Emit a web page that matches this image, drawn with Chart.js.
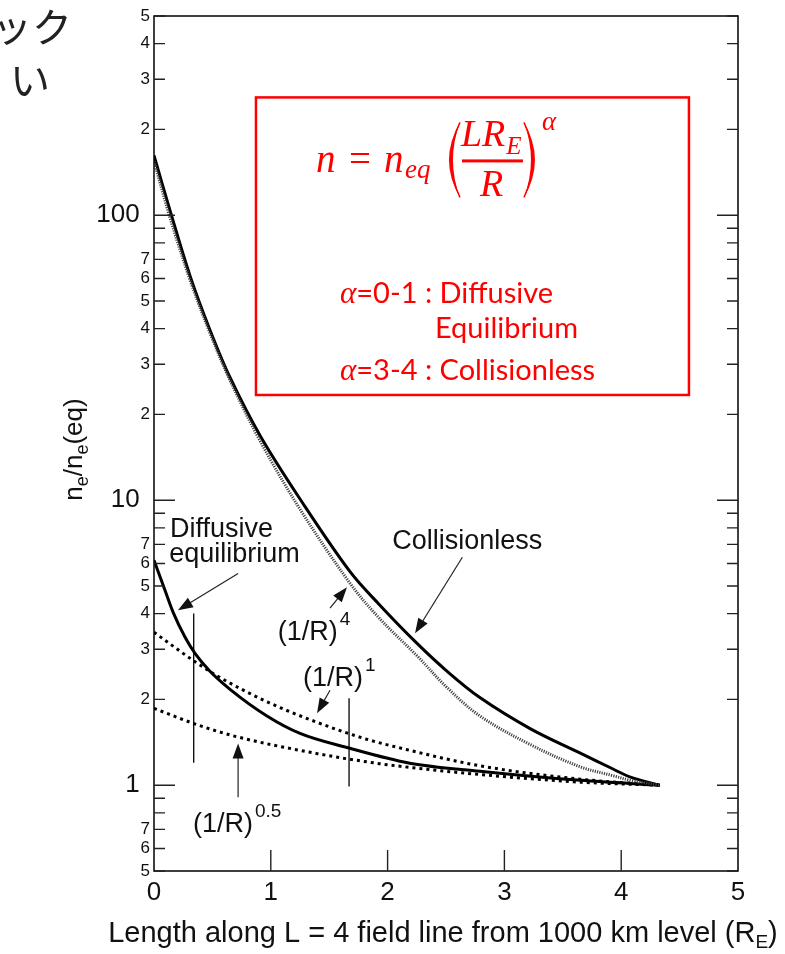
<!DOCTYPE html>
<html lang="ja">
<head>
<meta charset="UTF-8">
<title>n_e/n_e(eq) along L = 4</title>
<script src="https://cdn.jsdelivr.net/npm/chart.js"></script>
<style>
  html, body { margin: 0; padding: 0; background: #fff; }
  #wrap { position: relative; width: 785px; height: 954px; }
</style>
</head>
<body>
<div id="wrap"><canvas id="fig" width="785" height="954"></canvas></div>
<script>
// values: x = length along field line (R_E), y = n_e/n_e(eq)
const collX = [0, 0.14, 0.31, 0.48, 0.65, 0.91, 1.25, 1.68, 1.93, 2.25, 2.5, 2.79, 3.22, 3.65, 3.93, 4.08, 4.33];
const collY = [162, 103, 61, 39.5, 27, 16.8, 10.1, 5.6, 4.3, 3.15, 2.53, 2.03, 1.58, 1.295, 1.14, 1.067, 1.0];
const pow4Y = [155, 97, 59, 38.5, 26.4, 16.1, 9.3, 5.1, 3.85, 2.85, 2.22, 1.75, 1.39, 1.16, 1.08, 1.04, 1.0];

const diffX = [0, 0.094, 0.163, 0.265, 0.351, 0.479, 0.651, 0.967, 1.25, 1.67, 2.19, 2.79, 3.65, 4.33];
const diffY = [6.16, 4.83, 4.05, 3.31, 2.90, 2.51, 2.17, 1.75, 1.52, 1.35, 1.195, 1.12, 1.04, 1.0];

const pow1X = [0, 0.37, 0.54, 0.97, 1.40, 1.82, 2.11, 2.79, 3.65, 4.33];
const pow1Y = [3.44, 2.68, 2.42, 1.96, 1.66, 1.45, 1.35, 1.17, 1.05, 1.0];

const pow05X = [0, 0.37, 0.68, 1.40, 1.93, 2.11, 2.79, 3.65, 4.33];
const pow05Y = [1.86, 1.63, 1.49, 1.29, 1.19, 1.165, 1.09, 1.025, 1.0];

// the two thin vertical marker lines
const markX = [0.34, 1.67];
const markLo = [1.20, 0.99];
const markHi = [4.0, 2.02];

// axis ticks
const xAxisTicks = [0, 1, 2, 3, 4, 5];
const yAxisTicks = [0.5, 0.6, 0.7, 0.8, 0.9, 1, 2, 3, 4, 5, 6, 7, 8, 9, 10, 20, 30, 40, 50, 60, 70, 80, 90, 100, 200, 300, 400, 500];
const yAxisLabels = ['5', '6', '7', '', '', '1', '2', '3', '4', '5', '6', '7', '', '', '10', '2', '3', '4', '5', '6', '7', '', '', '100', '2', '3', '4', '5'];
const yMajor = [1, 10, 100];

// text labels and arrows, in data units
const notes = [
  { text: 'Diffusive', x: 0.137, y: 7.42 },
  { text: 'equilibrium', x: 0.13, y: 6.06 },
  { text: 'Collisionless', x: 2.04, y: 6.73 },
  { text: '(1/R)', sup: '4', x: 1.06, y: 3.23 },
  { text: '(1/R)', sup: '1', x: 1.276, y: 2.225 },
  { text: '(1/R)', sup: '0.5', x: 0.334, y: 0.684 }
];
const arrows = [
  { from: [0.72, 5.53], to: [0.205, 4.11] },
  { from: [2.64, 6.31], to: [2.235, 3.41] },
  { from: [1.507, 4.18], to: [1.652, 4.95] },
  { from: [1.507, 2.154], to: [1.396, 1.79] },
  { from: [0.72, 0.908], to: [0.72, 1.40] }
];
const redBox = { x0: 0.873, x1: 4.58, yTop: 259, yBot: 23.4 };

const FONT = '"Liberation Sans", Arial, sans-serif';
const RED = '#ff0000';

function pts(xs, ys) { return xs.map((x, i) => ({ x: x, y: ys[i] })); }

function curve(data, dash, color, width, smooth) {
  const ds = {
    data: data, showLine: true, pointRadius: 0, borderColor: color, borderWidth: width,
    borderDash: dash, fill: false
  };
  if (smooth) ds.tension = 0.35;
  else ds.cubicInterpolationMode = 'monotone';
  return ds;
}

const datasets = [
  curve(pts(collX, pow4Y), [1.2, 1.2], '#444', 3, true),
  curve(pts(collX, collY), [], '#000', 3, true),
  curve(pts(pow1X, pow1Y), [3, 4], '#000', 3),
  curve(pts(pow05X, pow05Y), [3, 4], '#000', 3),
  curve(pts(diffX, diffY), [], '#000', 3)
];
markX.forEach((x, i) => {
  datasets.push({ data: [{ x: x, y: markLo[i] }, { x: x, y: markHi[i] }], showLine: true,
    pointRadius: 0, borderColor: '#000', borderWidth: 1.3 });
});

function arrow(ctx, x1, y1, x2, y2) {
  const a = Math.atan2(y2 - y1, x2 - x1), L = 15, W = 5.5;
  const c = Math.cos(a), s = Math.sin(a);
  ctx.beginPath();
  ctx.moveTo(x1, y1);
  ctx.lineTo(x2 - L * 0.7 * c, y2 - L * 0.7 * s);
  ctx.stroke();
  ctx.beginPath();
  ctx.moveTo(x2, y2);
  ctx.lineTo(x2 - L * c + W * s, y2 - L * s - W * c);
  ctx.lineTo(x2 - L * c - W * s, y2 - L * s + W * c);
  ctx.closePath();
  ctx.fill();
}

function paren(ctx, x, top, bot, dir) {
  // dir = 1 for '(' , -1 for ')'
  const mid = (top + bot) / 2;
  ctx.beginPath();
  ctx.moveTo(x, top);
  ctx.quadraticCurveTo(x - dir * 22, mid, x, bot);
  ctx.quadraticCurveTo(x - dir * 14, mid, x, top);
  ctx.fill();
  ctx.beginPath();
  ctx.moveTo(x, top);
  ctx.quadraticCurveTo(x - dir * 18, mid, x, bot);
  ctx.stroke();
}

const decorations = {
  id: 'decorations',
  afterDraw(chart) {
    const ctx = chart.ctx, xs = chart.scales.x, ys = chart.scales.y, a = chart.chartArea;
    const px = v => xs.getPixelForValue(v), py = v => ys.getPixelForValue(v);
    ctx.save();

    // frame
    ctx.strokeStyle = '#000';
    ctx.lineWidth = 1.5;
    ctx.strokeRect(a.left, a.top, a.right - a.left, a.bottom - a.top);

    // inward tick marks
    ctx.strokeStyle = '#222';
    ctx.lineWidth = 1.4;
    ctx.beginPath();
    yAxisTicks.forEach(v => {
      const y = py(v), len = yMajor.includes(v) ? 21 : 11;
      ctx.moveTo(a.left, y); ctx.lineTo(a.left + len, y);
      ctx.moveTo(a.right, y); ctx.lineTo(a.right - len, y);
    });
    xAxisTicks.slice(1, -1).forEach(v => {
      const x = px(v);
      ctx.moveTo(x, a.bottom); ctx.lineTo(x, a.bottom - 21);
    });
    ctx.stroke();

    // annotations
    ctx.fillStyle = '#111';
    ctx.textBaseline = 'alphabetic';
    ctx.textAlign = 'left';
    notes.forEach(n => {
      ctx.font = '27px ' + FONT;
      const x = px(n.x), y = py(n.y);
      ctx.fillText(n.text, x, y);
      if (n.sup) {
        const w = ctx.measureText(n.text).width;
        ctx.font = '19px ' + FONT;
        ctx.fillText(n.sup, x + w + 2, y - 15);
      }
    });
    ctx.strokeStyle = '#222';
    ctx.fillStyle = '#111';
    ctx.lineWidth = 1.2;
    arrows.forEach(r => arrow(ctx, px(r.from[0]), py(r.from[1]), px(r.to[0]), py(r.to[1])));

    // axis titles
    ctx.fillStyle = '#111';
    const t1 = 'Length along L = 4 field line from 1000 km level (R';
    ctx.font = '29px ' + FONT;
    const w1 = ctx.measureText(t1).width;
    const wP = ctx.measureText(')').width;
    ctx.font = '19px ' + FONT;
    const wE = ctx.measureText('E').width;
    const tx = 443 - (w1 + wE + wP) / 2;
    const tyb = 942;
    ctx.font = '29px ' + FONT;
    ctx.fillText(t1, tx, tyb);
    ctx.fillText(')', tx + w1 + wE, tyb);
    ctx.font = '19px ' + FONT;
    ctx.fillText('E', tx + w1, tyb + 6);

    ctx.save();
    ctx.translate(82, (a.top + a.bottom) / 2 + 6);
    ctx.rotate(-Math.PI / 2);
    const parts = [['n', 0], ['e', 1], ['/n', 0], ['e', 1], ['(eq)', 0]];
    let total = 0;
    parts.forEach(p => { ctx.font = (p[1] ? '18px ' : '26px ') + FONT; total += ctx.measureText(p[0]).width; });
    let cx = -total / 2;
    parts.forEach(p => {
      ctx.font = (p[1] ? '18px ' : '26px ') + FONT;
      ctx.fillText(p[0], cx, p[1] ? 6 : 0);
      cx += ctx.measureText(p[0]).width;
    });
    ctx.restore();

    // red formula box
    const bl = px(redBox.x0), br = px(redBox.x1), bt = py(redBox.yTop), bb = py(redBox.yBot);
    ctx.strokeStyle = RED;
    ctx.fillStyle = RED;
    ctx.lineWidth = 2.5;
    ctx.strokeRect(bl, bt, br - bl, bb - bt);

    const ital = s => 'italic ' + s + 'px "Liberation Serif", "DejaVu Serif", serif';
    ctx.font = ital(39);
    ctx.fillText('n', bl + 60, bt + 75);
    ctx.font = '39px "Liberation Serif", serif';
    ctx.fillText('=', bl + 93, bt + 75);
    ctx.font = ital(39);
    ctx.fillText('n', bl + 128, bt + 75);
    ctx.font = ital(27);
    ctx.fillText('eq', bl + 149, bt + 81);
    ctx.lineWidth = 1.5;
    paren(ctx, bl + 204, bt + 25, bt + 100, 1);
    paren(ctx, bl + 268, bt + 25, bt + 100, -1);
    ctx.font = ital(38);
    ctx.fillText('LR', bl + 205, bt + 49);
    const wLR = ctx.measureText('LR').width;
    ctx.font = ital(25);
    ctx.fillText('E', bl + 205 + wLR + 1, bt + 57);
    ctx.fillRect(bl + 206, bt + 62, 61, 3);
    ctx.font = ital(38);
    ctx.fillText('R', bl + 224, bt + 99);
    ctx.font = ital(27);
    ctx.fillText('α', bl + 286, bt + 33);

    const sans = '29px Lato, "Noto Sans", sans-serif';
    [['=0-1 : Diffusive', 206], ['=3-4 : Collisionless', 283]].forEach(l => {
      ctx.font = ital(31);
      ctx.fillText('α', bl + 84, bt + l[1]);
      const wa = ctx.measureText('α').width;
      ctx.font = sans;
      ctx.fillText(l[0], bl + 84 + wa, bt + l[1]);
    });
    ctx.font = sans;
    ctx.fillText('Equilibrium', bl + 179, bt + 241);

    // leftover slide text, cut by the page edge
    ctx.fillStyle = '#222';
    ctx.font = '40px "Noto Sans CJK JP", sans-serif';
    ctx.fillText('ック', -8, 42);
    ctx.fillText('い', 10, 95);

    ctx.restore();
  }
};

new Chart(document.getElementById('fig'), {
  type: 'scatter',
  data: { datasets: datasets },
  options: {
    responsive: false,
    animation: false,
    devicePixelRatio: 1,
    layout: { padding: { left: 0, top: 16, right: 47, bottom: 0 } },
    plugins: { legend: { display: false }, tooltip: { enabled: false } },
    scales: {
      x: {
        type: 'linear', min: 0, max: 5,
        afterBuildTicks: s => { s.ticks = xAxisTicks.map(v => ({ value: v })); },
        afterFit: s => { s.height = 83; },
        grid: { display: false, drawTicks: false },
        border: { display: false },
        ticks: { padding: 6, color: '#111', autoSkip: false, maxRotation: 0,
          font: { family: 'Liberation Sans', size: 26 } }
      },
      y: {
        type: 'logarithmic', min: 0.5, max: 500,
        afterBuildTicks: s => { s.ticks = yAxisTicks.map(v => ({ value: v })); },
        afterFit: s => { s.width = 154; },
        grid: { display: false, drawTicks: false },
        border: { display: false },
        ticks: {
          padding: 4, color: '#111', autoSkip: false,
          callback: (v, i) => yAxisLabels[i] + (yMajor.includes(v) ? '\u2009\u2009' : ''),
          font: c => ({ family: 'Liberation Sans', size: (c.tick && yMajor.includes(c.tick.value)) ? 26 : 17 })
        }
      }
    }
  },
  plugins: [decorations]
});
</script>
</body>
</html>
